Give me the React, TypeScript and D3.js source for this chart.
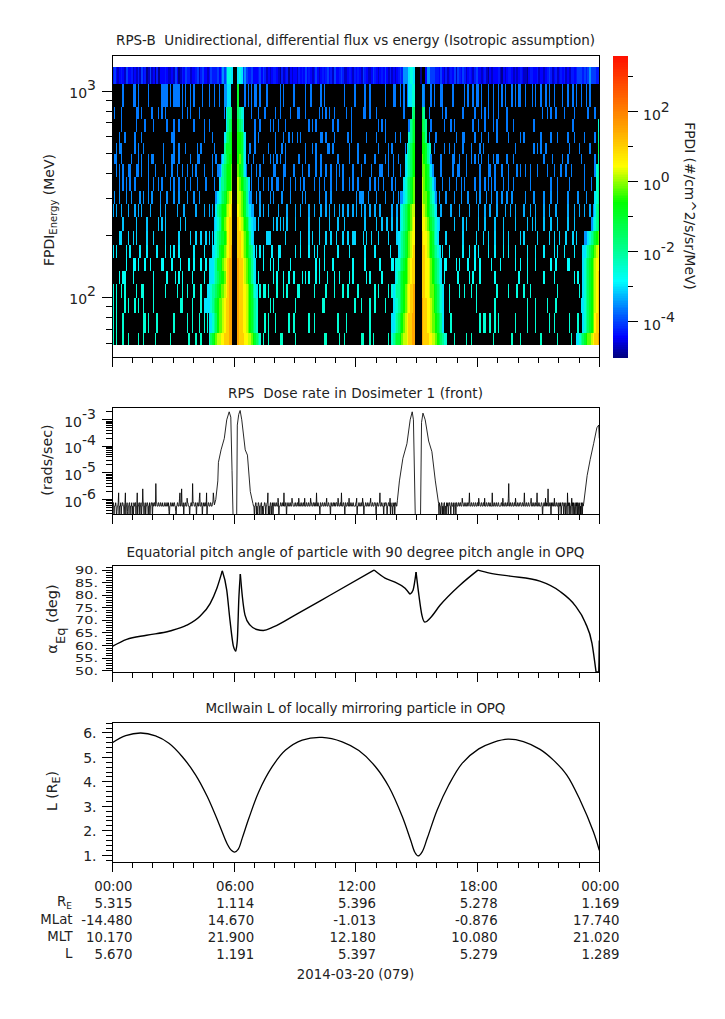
import React from "react";
import * as d3 from "d3";

// ---------- Spectrogram data ----------
const energyEdges = [1308, 1085, 839, 731, 635, 561, 494, 442, 383, 328, 283, 245, 210, 179, 155, 134, 115.5, 99.4, 83.8, 67, 59];
// top channel: one digit per 5-minute bin
const topBandCodes = [
  "453234325334", "232425341252", "314133343223", "253124354423", "345245332354", "445356568870",
  "007875654453", "334535423234", "432142341323", "324343534323", "532343453425", "334542234324",
  "343254322354", "323435324232", "345466678870", "001003665554", "435324234352", "543542343245",
  "332342132333", "421323443232", "343221344334", "233234542342", "343423244345", "554545655544",
].join("");
const topBandLevels = [NaN, -4.95, -4.7, -4.45, -4.3, -4.05, -3.5, -3.0, -2.6];
// count-floor level of each lower channel (log10 flux)
const noiseLevels = [-3.65, -3.65, -3.65, -3.62, -3.6, -3.6, -3.6, -3.6, -3.5, -3.35, -3.2, -3.1, -2.95, -2.85, -2.75, -2.6, -2.55, -2.5, -2.4];
// 5-minute bins with a one-count detection in each lower channel
const noiseBins = [
  [6,12,13,15,21,29,30,31,32,34,36,37,38,39,41,43,46,48,53,57,60,63,78,80,82,84,85,87,91,99,101,107,114,117,123,125,137,143,149,152,161,166,167,170,172,174,184,188,190,194,195,201,208,210,213,215,216,218,222,225,228,230,232,236,238,240,241,244,248,250,253,256,258,261,266,269,272,274,277,280,282],
  [1,5,14,15,17,23,27,29,31,41,44,46,51,66,82,86,90,96,99,105,109,110,114,122,124,126,128,131,138,141,148,149,152,156,172,184,187,195,197,207,214,218,220,222,225,228,233,254,257,259,262,267,273,281,285],
  [5,14,19,24,32,36,39,48,54,57,84,87,93,95,98,102,116,118,120,130,133,141,157,159,161,175,188,196,200,202,213,216,220,225,227,233,237,249,272],
  [4,7,13,17,35,36,54,59,84,86,96,101,104,106,109,111,123,124,126,131,139,141,150,156,161,167,170,187,191,203,207,208,214,218,222,227,234,241,243,253,259,263,269,273,279,285],
  [2,4,5,13,15,18,30,36,39,43,50,52,60,81,84,92,96,100,102,114,118,120,127,128,130,140,145,157,163,165,173,190,196,199,202,207,212,217,219,238,249,251,253,256,270,276,282],
  [1,2,5,11,15,17,21,23,24,30,35,36,39,46,50,51,59,61,80,83,89,93,95,97,99,102,110,114,120,123,133,140,145,149,155,161,163,166,169,173,188,194,201,202,205,209,212,214,216,218,222,225,227,228,233,237,255,260,266,269,277,285],
  [2,4,6,9,10,14,15,17,21,25,31,35,38,41,44,47,49,54,59,62,79,82,85,87,95,96,101,102,107,112,116,120,123,126,129,132,134,136,142,147,153,158,159,163,166,170,188,194,201,204,205,209,217,222,223,226,230,234,239,241,244,247,251,257,261,265,268,271,279,285],
  [4,6,8,10,13,21,24,27,29,34,36,39,43,46,50,55,60,63,80,82,86,89,92,94,97,98,101,105,108,111,113,119,122,125,129,132,136,140,142,145,152,155,157,160,165,167,172,190,195,199,203,206,208,214,217,220,222,224,226,231,234,237,247,259,263,270,279,283],
  [1,4,8,11,16,18,21,23,28,32,36,39,44,48,51,61,63,81,82,85,87,93,95,100,105,112,114,122,126,129,144,146,147,148,151,156,161,166,169,190,193,197,202,206,210,215,217,221,224,227,230,233,236,244,249,255,259,263,269,275,280,285],
  [0,2,5,9,13,15,17,22,28,31,38,42,49,54,57,59,82,83,87,89,92,98,103,108,111,116,119,123,126,128,131,134,136,139,142,144,147,149,152,155,158,165,168,170,179,191,194,200,205,211,216,220,223,227,232,235,238,243,247,250,255,258,262,269,273,276,279,282],
  [6,14,20,27,29,31,40,43,60,62,83,84,86,95,97,99,101,103,108,116,122,128,133,137,149,156,159,162,165,168,170,191,193,202,207,209,216,220,226,231,238,245,248,250,255,259,263,269,273],
  [4,5,9,12,14,20,24,31,39,46,49,52,55,57,59,83,91,92,93,102,111,116,118,122,126,129,132,136,139,142,143,148,150,153,157,163,168,170,181,192,197,207,215,219,222,226,231,234,241,243,251,258,261,264,268,272,274],
  [0,2,8,10,16,20,26,31,34,36,39,48,54,85,87,89,94,98,99,108,111,116,119,121,125,133,140,149,155,164,169,192,195,199,207,211,214,216,222,226,231,234,238,245,250,255,261,263,267,273],
  [8,12,13,15,19,22,29,30,35,40,45,48,52,55,89,93,95,98,105,120,122,125,130,142,149,158,165,166,169,193,196,197,203,205,210,214,217,224,229,238,241,245,250,259,262,269,270],
  [4,6,7,12,24,32,37,39,41,47,54,86,95,97,101,104,107,112,114,116,120,122,127,131,134,140,142,150,152,159,168,180,196,204,211,213,217,226,240,245,255,261,273,275,278],
  [0,2,5,7,14,17,18,24,31,38,41,44,48,52,56,58,85,87,89,90,92,97,101,103,109,110,119,126,131,136,139,145,155,157,163,165,195,199,205,208,212,215,227,234,239,243,247,263,276],
  [0,2,7,9,13,15,18,24,40,41,47,52,55,84,93,95,108,124,125,143,147,152,155,161,166,195,199,215,226,245,250,257,262],
  [0,2,6,18,19,21,26,36,44,47,51,54,56,85,90,92,96,104,107,116,119,133,138,152,165,166,200,217,219,220,223,226,228,238,245,250,258,261,270,275],
  [0,2,6,9,15,18,25,34,45,49,52,57,87,89,92,99,100,108,125,126,134,137,147,148,152,154,163,165,167,202,209,212,225,236,241,253,263,271],
];
// belt flanks: one letter per 5-minute bin, each row = one lower channel
const fluxCodes: Record<string, number> = { a: -3.5, b: -3, c: -2.5, d: -2, e: -1.5, f: -1, g: -0.6, h: -0.2, i: 0.2, j: 0.5, k: 1, l: 1.5 };
const pass1InEnd = 70;
const pass1In = ["aabb.", "bdde", "bdef", "bdefg", "dfffg", "abdefgg", "abdefggh", "bddefggh", "bcdefghij", "bdefgghijk", "bcdfghijkk", "bcdeffghjkk", "bbcdfgghijkl", "bbbcdffghijkll", "bbbcdefgghjkll", "bbcddefghhijkll", "bbbbcdefghhijkkll", "bbcdeghhijkkll", "cefghiijjkkkll"];
const pass1OutStart = 74;
const pass1Out = ["f", "edcb", "fedb", "ggfdb", "ggfdb", "ghfdb", "hgfdb", "ihgfedb", "iihgfdba", "jihgfdcb", "kjihgfdcb", "kkjihgfdb", "kkjihgfedb", "lkkjihgfdcb", "lkkjihgfdcb", "lkkjjihgfdcb", "lkkjjihgfedc", "lkkjjihgfedc", "lkkkjjiihgfedc"];
const pass2InEnd = 178;
const pass2In = ["bbcc", "de", "def", "cdef", "bdefg", "bcdefg", "bcdefg", "bcdefgh", "aabcdefgh", "bcdefghii", "bcdefghij", "bcdefghijj", "bcdefghijk", "bccdefghijkk", "bcdefgghijkk", "bcddefghijkkl", "bccdefghijkkl", "bbcdefghijkkll", "cdeffghiijkkll"];
const pass2OutStart = 183;
const pass2Out = ["a", "ed", "fed", "gfd", "ggfdc", "hgfdca", "hhgfdba", "ihgfedba", "ihhgfdcba", "jihgfedcb", "jjihgfedcb", "kjjihgfdcb", "kkjihgfedcb", "kkjjihgfedcb", "kkjjihgfedcb", "kkjjihhgfedcb", "lkkjjihgfedcb", "lkkjjihhgfedb", "lkkkjjiihgfedcc"];
const pass3InEnd = 287;
const pass3In = ["", "", "c", "d", "e", "d", "cd", "cd", "bcd", "abde", "abcde", "aabcdefgh", "bbcdefghij", "bcdefghijj", "bcdefghijk", "bcdefghijk", "bbcdefghijk", "bcdefghjkk", "bbcdefghhijkkl"];

// ---------- Dose data: one digit per 1.25 minutes in the quiet stretches ----------
const doseLevels = [-6.7, -6.45, -6.25, -6.12, -5.95, -5.75, -5.6, -5.4];
const doseQuietA = [
  "223302223201223502223022332202350223102233022230",
  "220322330225022330223022633022302233202230223320",
  "322332273322233222332223222233222332231022332223",
  "223322102233222452236222302233222433222022332273",
  "332223302233224522233022322332250223322233222335",
].join("");
const doseQuietB = [
  "220223302103322022330210223320223350220233022302",
  "332223322243022233222332522233022332223322243322",
  "223322233224322233222332242223322233222433222332",
  "233225223322203322233222332234222332220332223322",
  "322333224322233252223322033222332242223322233222",
  "223340222332223322433022233222332223342223322233",
  "320233222335222332220322333202233224032220322302",
  "3322",
].join("");
const doseQuietC = [
  "032202330202330220322302332203322230223203322233",
  "223322243322233222332233522233222332223322233243",
  "322233222332422233222332232222522233222332223322",
  "222332243222332223324722332223322233243222332223",
  "332223322352223322233222334222332223322352223322",
  "223320223322423223622233203223322422233222302232",
  "302233203220322052320322024230320232032303202302",
  "032032",
].join("");
const doseRiseA: [number, number][] = [[5.03,-6.2],[5.1,-6],[5.2,-5.3],[5.23,-4.6],[5.36,-4.13],[5.52,-3.7],[5.64,-3],[5.76,-2.7],[5.84,-2.9],[5.9,-4.9],[5.95,-6.6],[6.13,-6.6],[6.16,-3.2],[6.23,-2.8],[6.3,-2.65],[6.38,-3],[6.55,-4.13],[6.66,-4.33],[6.8,-5.7],[6.93,-6.15]];
const doseRiseB: [number, number][] = [[14.05,-6.03],[14.15,-5.3],[14.32,-4.45],[14.52,-3.9],[14.68,-3],[14.78,-2.7],[14.84,-3],[14.93,-6.6],[15.19,-6.6],[15.24,-3.1],[15.31,-2.75],[15.42,-3],[15.59,-3.8],[15.75,-4.2],[15.92,-5.3],[16.08,-6.15]];
const doseRiseC: [number, number][] = [[23.23,-6.15],[23.4,-5.1],[23.55,-4.5],[23.72,-3.9],[23.88,-3.3],[23.97,-3.2],[24,-3.7]];

// ---------- Pitch angle and L ----------
const pitchHours = [0,0.71,1.69,2.84,3.67,4.32,4.82,5.15,5.42,5.64,5.8,5.96,6.08,6.16,6.24,6.31,6.41,6.54,6.79,7.12,7.44,7.94,9.09,10.73,12.9,13.44,13.93,14.43,14.67,14.82,14.97,15.11,15.26,15.41,15.66,16.15,17.13,18.02,18.6,19.6,21.07,22.05,22.8,23.3,23.64,23.84,23.97,24];
const pitchDeg = [59.7,62.5,64.1,65.8,68.1,71.7,76.7,82.7,89.7,82,70,60,57.7,62,79.4,88.4,79.4,72.1,68.1,66.4,66,67.4,72.5,80,90,86.8,85.2,82.8,80.4,82,89.2,80,72,69.3,70.9,76,84,90,88.8,87.6,85.6,81.6,76,69.3,60.9,49.5,49.5,62];
const pitchCusps = [5.42, 6.08, 6.31, 12.9, 14.67, 14.97, 18.02, 23.84];
const lHours = [0,0.66,1.4,2.13,2.79,3.45,4.11,4.68,5.25,5.67,5.88,6.03,6.21,6.4,6.73,7.22,7.88,8.54,9.36,10.34,11.33,12.15,12.97,13.63,14.29,14.7,14.91,15.07,15.27,15.52,16.01,16.58,17.24,18.06,18.78,19.5,20.26,21.08,21.74,22.4,23.05,23.71,24];
const lValues = [5.6,5.89,6,5.88,5.58,5.03,4.28,3.4,2.3,1.45,1.19,1.13,1.25,1.69,2.51,3.6,4.62,5.3,5.71,5.82,5.64,5.28,4.62,3.8,2.58,1.62,1.12,0.97,1.14,1.69,2.85,3.87,4.76,5.35,5.62,5.75,5.65,5.33,4.89,4.28,3.26,1.96,1.2];

// ---------- Labels ----------
const titles = ["RPS-B  Unidirectional, differential flux vs energy (Isotropic assumption)", "RPS  Dose rate in Dosimeter 1 (front)", "Equatorial pitch angle of particle with 90 degree pitch angle in OPQ", "McIlwain L of locally mirroring particle in OPQ"];
const titleWidths = [479, 255, 458, 300];
const timeTicks = [0, 6, 12, 18, 24];
const timeLabels = ["00:00", "06:00", "12:00", "18:00", "00:00"];
const reValues = ["5.315", "1.114", "5.396", "5.278", "1.169"];
const mlatValues = ["-14.480", "14.670", "-1.013", "-0.876", "17.740"];
const mltValues = ["10.170", "21.900", "12.180", "10.080", "21.020"];
const lLabelValues = ["5.670", "1.191", "5.397", "5.279", "1.289"];
const colorTicks = [-4, -3, -2, -1, 0, 1, 2, 3];
const pitchLabels = [90, 85, 80, 75, 70, 65, 60, 55, 50];
const lLabels = [6, 5, 4, 3, 2, 1];

const FONT = "'DejaVu Sans', sans-serif";
const FS = 13.3;
const INK = "#222";
const L = 112.3, R = 599.3;
const x = d3.scaleLinear().domain([0, 24]).range([L, R]);
const binX = d3.scaleLinear().domain([0, 288]).range([L, R]);
const yE = d3.scaleLog().domain([1495, 51.2]).range([55, 357.3]);
const yDose = d3.scaleLog().domain([10 ** -2.545, 10 ** -6.557]).range([407.7, 514.3]);
const yPitch = d3.scaleLinear().domain([91.9, 49.5]).range([565.3, 672]);
const yL = d3.scaleLinear().domain([6.45, 0.71]).range([722, 862.3]);
const color = d3.scaleLinear<string>()
  .domain([-5, -4.45, -3.6, -2.85, -2, -0.6, 0.43, 1.5, 3.57])
  .range(["#000080", "#0000ff", "#0080ff", "#00ffff", "#00ff96", "#00ff00", "#ffff00", "#ffa500", "#ff1000"])
  .clamp(true);
const yBar = d3.scaleLinear().domain([3.57, -5]).range([57, 357]);

const logMinor = (lo: number, hi: number) => {
  const out: number[] = [];
  for (let e = lo; e <= hi; e++) for (let m = 2; m <= 9; m++) out.push(m * 10 ** e);
  return out;
};

function Pow({ x, y, exp, anchor = "end" }: any) {
  return (
    <text x={x} y={y} textAnchor={anchor} fontSize={14} fontFamily={FONT} fill={INK}>
      10<tspan dy={-8}>{exp}</tspan>
    </text>
  );
}

function Frame({ top, bottom }: { top: number; bottom: number }) {
  const hours = d3.range(0, 25);
  return (
    <g stroke="#000" strokeWidth={1} shapeRendering="crispEdges">
      <rect x={L} y={top} width={R - L} height={bottom - top} fill="none" />
      {hours.map((h) => (
        <line key={h} x1={x(h)} x2={x(h)} y1={bottom} y2={bottom + (h % 6 === 0 ? 10 : 5.5)} />
      ))}
    </g>
  );
}

function YTicks({ major, minor, scale }: { major: number[]; minor: number[]; scale: (v: number) => number }) {
  return (
    <g stroke="#000" strokeWidth={1} shapeRendering="crispEdges">
      {major.map((v) => <line key={"M" + v} x1={L - 10.5} x2={L} y1={scale(v)} y2={scale(v)} />)}
      {minor.map((v) => <line key={"m" + v} x1={L - 6} x2={L} y1={scale(v)} y2={scale(v)} />)}
    </g>
  );
}

function Spectrogram() {
  const cells: React.ReactNode[] = [];
  const rect = (row: number, bin: number, val: number, k: string, w?: number) => {
    cells.push(
      <rect key={k} x={binX(bin)} width={w ?? binX(1) - binX(0) + 0.3} y={yE(energyEdges[row])} height={yE(energyEdges[row + 1]) - yE(energyEdges[row])} fill={color(val)} />
    );
  };
  topBandCodes.split("").forEach((c, i) => {
    const v = topBandLevels[+c];
    if (!Number.isNaN(v) && i < 288) rect(0, i, v, `t${i}`);
  });
  noiseBins.forEach((bins, r) => bins.forEach((b) => rect(r + 1, b, noiseLevels[r], `n${r}-${b}`, bins.includes(b + 1) ? 1.8 : 1.4)));
  const paint = (codes: string, start: number, r: number, tag: string) => {
    codes.split("").forEach((c, i) => {
      if (c in fluxCodes) rect(r + 1, start + i, fluxCodes[c], `${tag}${r}-${i}`);
    });
  };
  const blanks: React.ReactNode[] = [];
  noiseLevels.forEach((_, r) => {
    [[pass1InEnd + 1, pass1OutStart], [pass2InEnd + 1, pass2OutStart]].forEach(([a, b], j) => {
      blanks.push(<rect key={`b${r}-${j}`} x={binX(a)} width={binX(b) - binX(a)} y={yE(energyEdges[r + 1])} height={yE(energyEdges[r + 2]) - yE(energyEdges[r + 1])} fill="#000" />);
    });
  });
  pass1In.forEach((s, r) => paint(s, pass1InEnd - s.length + 1, r, "a"));
  pass1Out.forEach((s, r) => paint(s, pass1OutStart, r, "b"));
  pass2In.forEach((s, r) => paint(s, pass2InEnd - s.length + 1, r, "c"));
  pass2Out.forEach((s, r) => paint(s, pass2OutStart, r, "d"));
  pass3In.forEach((s, r) => paint(s, pass3InEnd - s.length + 1, r, "e"));
  return (
    <g shapeRendering="crispEdges">
      <rect x={L} width={R - L} y={yE(energyEdges[0])} height={yE(energyEdges[energyEdges.length - 1]) - yE(energyEdges[0])} fill="#000" />
      {cells}
      {blanks}
    </g>
  );
}

function doseSeries(): [number, number][] {
  const quiet = (s: string, t0: number) => s.split("").map((c, i) => [t0 + i / 48, doseLevels[+c]] as [number, number]);
  return [...quiet(doseQuietA, 0), ...doseRiseA, ...quiet(doseQuietB, 6.96), ...doseRiseB, ...quiet(doseQuietC, 16.1), ...doseRiseC];
}

export default function App() {
  const doseLine = d3.line<[number, number]>().x((d) => x(d[0])).y((d) => yDose(10 ** d[1]));
  const lLine = d3.line<number>().x((_, i) => x(lHours[i])).y((d) => yL(d)).curve(d3.curveCatmullRom);
  // the pitch-angle curve has sharp cusps: draw each smooth arc on its own
  const pitchPts = pitchHours.map((h, i) => [h, pitchDeg[i]] as [number, number]);
  const pitchLine = d3.line<[number, number]>().x((d) => x(d[0])).y((d) => yPitch(d[1])).curve(d3.curveMonotoneX);
  const cuts = [0, ...pitchCusps, 24];
  const pitchArcs = cuts.slice(1).map((end, i) => pitchPts.filter((p) => p[0] >= cuts[i] && p[0] <= end));
  const barSteps = d3.range(-5, 3.57, 0.05);
  const rowsY = [908, 925, 942, 959];
  const rows = [reValues, mlatValues, mltValues, lLabelValues];
  const t = (props: any, s: any) => <text fontFamily={FONT} fontSize={FS} fill={INK} {...props}>{s}</text>;
  return (
    <svg width={725} height={1019} style={{ position: "absolute", left: 0, top: 0, background: "#fff" }}>
      <defs>
        <clipPath id="c2"><rect x={L} y={407.7} width={R - L} height={106.6} /></clipPath>
      </defs>
      {titles.map((s, i) => (
        <text key={i} x={355.5} y={[45, 398, 557, 713][i]} textAnchor="middle" fontFamily={FONT} fontSize={13.5} fill={INK}
          textLength={titleWidths[i]} lengthAdjust="spacing" style={{ whiteSpace: "pre" }}>{s}</text>
      ))}

      <Spectrogram />
      <Frame top={55} bottom={357.3} />
      <YTicks major={[100, 1000]} minor={logMinor(1, 3).filter((v) => v > 52 && v < 1490 && v !== 100 && v !== 1000)} scale={yE} />
      <Pow x={96} y={98} exp="3" />
      <Pow x={96} y={304} exp="2" />
      <text transform="translate(54,210) rotate(-90)" textAnchor="middle" fontFamily={FONT} fontSize={14} fill={INK}>
        FPDI<tspan fontSize={10} dy={3}>Energy</tspan><tspan dy={-3}> (MeV)</tspan>
      </text>

      <g shapeRendering="crispEdges">
        {barSteps.map((v) => <rect key={v} x={613.3} width={14.7} y={yBar(v + 0.05)} height={yBar(v) - yBar(v + 0.05) + 0.5} fill={color(v)} />)}
      </g>
      <g stroke="#000" shapeRendering="crispEdges">
        {colorTicks.map((v) => <line key={v} x1={628} x2={v % 2 === 0 ? 638 : 632.5} y1={yBar(v)} y2={yBar(v)} />)}
      </g>
      {colorTicks.filter((v) => v % 2 === 0).map((v) => <Pow key={v} x={643} y={yBar(v) + 8} exp={String(v)} anchor="start" />)}
      <text transform="translate(685,206) rotate(90)" textAnchor="middle" fontFamily={FONT} fontSize={13.8} fill={INK}>FPDI (#/cm^2/s/sr/MeV)</text>

      <path d={doseLine(doseSeries()) as string} fill="none" stroke="#000" strokeWidth={0.85} clipPath="url(#c2)" />
      <Frame top={407.7} bottom={514.3} />
      <YTicks major={[1e-3, 1e-4, 1e-5, 1e-6]} minor={logMinor(-7, -3).filter((v) => v > 10 ** -6.55 && v < 10 ** -2.55)} scale={yDose} />
      {[-3, -4, -5, -6].map((e) => <Pow key={e} x={96} y={yDose(10 ** e) + 7} exp={String(e)} />)}
      <text transform="translate(52,460) rotate(-90)" textAnchor="middle" fontFamily={FONT} fontSize={14.3} fill={INK}>(rads/sec)</text>

      {pitchArcs.map((arc, i) => <path key={i} d={pitchLine(arc) as string} fill="none" stroke="#000" strokeWidth={1.4} />)}
      <Frame top={565.3} bottom={672} />
      <YTicks major={pitchLabels} minor={d3.range(50, 92).filter((v) => v % 5 !== 0)} scale={yPitch} />
      {pitchLabels.map((v) => (
        <text key={v} transform={`translate(98,${yPitch(v) + 4}) scale(1.38,1)`} textAnchor="end" fontFamily={FONT} fontSize={10.5} fill={INK}>{v}.</text>
      ))}
      <text transform="translate(57,619) rotate(-90)" textAnchor="middle" fontFamily={FONT} fontSize={14.5} fill={INK}>
        α<tspan fontSize={13} dy={8}>Eq</tspan><tspan dy={-8}> (deg)</tspan>
      </text>

      <path d={lLine(lValues) as string} fill="none" stroke="#000" strokeWidth={1.3} />
      <Frame top={722} bottom={862.3} />
      <YTicks major={lLabels} minor={d3.range(0.8, 6.41, 0.2).filter((v) => Math.abs(v - Math.round(v)) > 0.05)} scale={yL} />
      {lLabels.map((v) => <text key={v} x={96.5} y={yL(v) + 5.5} textAnchor="end" fontFamily={FONT} fontSize={14} fill={INK}>{v}.</text>)}
      <text transform="translate(57,791) rotate(-90)" textAnchor="middle" fontFamily={FONT} fontSize={14} fill={INK}>
        L (R<tspan fontSize={11} dy={3}>E</tspan><tspan dy={-3}>)</tspan>
      </text>

      {timeTicks.map((h, i) => t({ key: h, x: x(h) + 20.2, y: 891, textAnchor: "end" }, timeLabels[i]))}
      {rows.map((vals, r) => vals.map((v, i) => t({ key: `${r}-${i}`, x: x(timeTicks[i]) + 20.2, y: rowsY[r], textAnchor: "end" }, v)))}
      <text x={72} y={906} textAnchor="end" fontFamily={FONT} fontSize={FS} fill={INK}>R<tspan fontSize={9} dy={3}>E</tspan></text>
      {t({ x: 72.5, y: 924, textAnchor: "end" }, "MLat")}
      {t({ x: 72.5, y: 941, textAnchor: "end" }, "MLT")}
      {t({ x: 72.5, y: 958, textAnchor: "end" }, "L")}
      {t({ x: 355.5, y: 979, textAnchor: "middle" }, "2014-03-20 (079)")}
    </svg>
  );
}
